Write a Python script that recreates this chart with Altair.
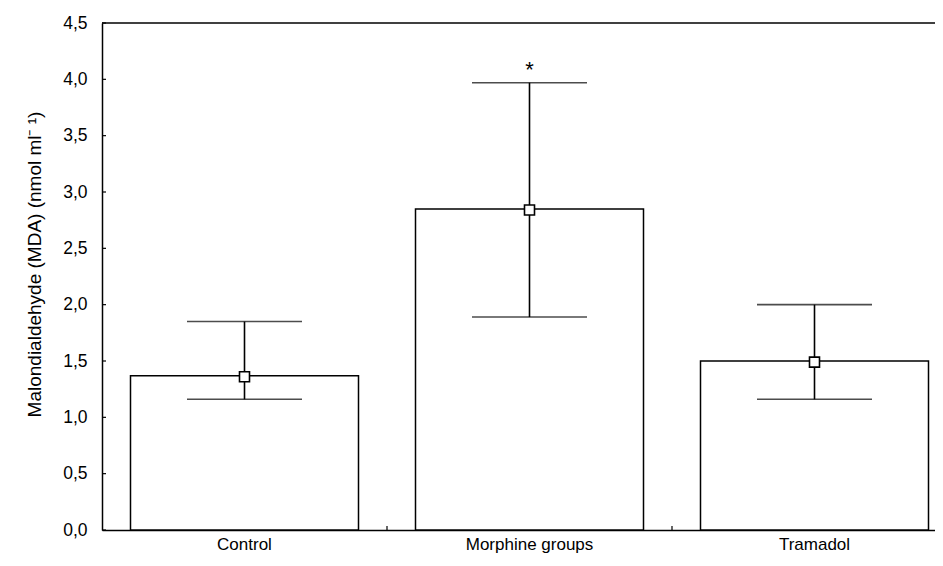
import altair as alt
import pandas as pd

# ---- data ----
groups = ["Control", "Morphine groups", "Tramadol"]
bar_values = [1.37, 2.85, 1.50]
mean_values = [1.36, 2.84, 1.49]
err_low = [1.16, 1.89, 1.16]
err_high = [1.85, 3.97, 2.00]

sig_groups = ["Morphine groups"]
sig_labels = ["*"]
sig_pos = [4.08]

y_ticks = [0.0, 0.5, 1.0, 1.5, 2.0, 2.5, 3.0, 3.5, 4.0, 4.5]
y_max = 4.5

df = pd.DataFrame({
    "group": groups,
    "bar": bar_values,
    "mean": mean_values,
    "low": err_low,
    "high": err_high,
})
sig_df = pd.DataFrame({"group": sig_groups, "label": sig_labels, "pos": sig_pos})
frame_df = pd.DataFrame({"top": [y_max]})
ytick_df = pd.DataFrame({"v": y_ticks})
xtick_df = pd.DataFrame({"group": groups[1:]})

FONT = "Liberation Sans"
PLOT_W = 833
PLOT_H = 507
FULL_RANGE = 855
STEP = FULL_RANGE / 3
Y_TITLE = "Malondialdehyde (MDA) (nmol ml⁻ ¹)"

xscale = alt.Scale(domain=groups, range=[0, FULL_RANGE], paddingInner=0.2, paddingOuter=0.1)
yscale = alt.Scale(domain=[0, y_max], nice=False, zero=True)

comma_expr = "replace(format(datum.value, '.1f'), '.', ',')"

x_axis = alt.Axis(orient="bottom", title=None, ticks=False, domain=True,
                  domainColor="black", domainWidth=1.5, labelAngle=0,
                  labelFontSize=17, labelPadding=6, labelColor="black",
                  labelFont=FONT)
y_axis = alt.Axis(orient="left", values=y_ticks, ticks=False, domain=True,
                  domainColor="black", domainWidth=1.5, grid=False,
                  labelExpr=comma_expr, labelFontSize=17.5, labelPadding=15,
                  labelColor="black", labelFont=FONT,
                  title=Y_TITLE, titleFont=FONT, titleFontSize=19,
                  titleFontWeight="normal", titleColor="black",
                  titlePadding=18, titleY=241)


def X(field="group:N", **kw):
    return alt.X(field, scale=xscale, sort=groups, axis=x_axis, **kw)


def Y(field):
    return alt.Y(field, scale=yscale, axis=y_axis, title=Y_TITLE)


base = alt.Chart(df)

bars = base.mark_bar(fill="white", stroke="black", strokeWidth=1.5).encode(
    x=X(), y=Y("bar:Q"),
)

err = base.mark_rule(color="black", strokeWidth=1.6).encode(
    x=X(), y=Y("low:Q"), y2="high:Q",
)

cap_low = base.mark_tick(color="black", size=115, thickness=1.6).encode(
    x=X(), y=Y("low:Q"),
)
cap_high = base.mark_tick(color="black", size=115, thickness=1.6).encode(
    x=X(), y=Y("high:Q"),
)

points = base.mark_point(shape="square", filled=True, fill="white", stroke="black",
                         strokeWidth=1.6, size=100, opacity=1).encode(
    x=X(), y=Y("mean:Q"),
)

stars = alt.Chart(sig_df).mark_text(font=FONT, fontSize=22, color="black",
                                    baseline="middle", align="center").encode(
    x=X(), y=Y("pos:Q"), text="label:N",
)

# plot frame (top edge) and inward axis ticks
frame = alt.Chart(frame_df).mark_rule(color="black", strokeWidth=1.5).encode(
    x=alt.value(0), x2=alt.value(FULL_RANGE),
    y=Y("top:Q"),
)
yticks = alt.Chart(ytick_df).mark_rule(color="black", strokeWidth=1.2).encode(
    x=alt.value(0), x2=alt.value(4),
    y=Y("v:Q"),
)
xticks = alt.Chart(xtick_df).mark_rule(color="black", strokeWidth=1.2,
                                       xOffset=-0.1 * STEP).encode(
    x=X(bandPosition=0),
    y=alt.value(PLOT_H), y2=alt.value(PLOT_H - 4),
)

chart = alt.layer(bars, err, cap_low, cap_high, points, stars, frame, yticks, xticks).properties(
    width=PLOT_W, height=PLOT_H,
    autosize=alt.AutoSizeParams(type="none"),
    padding={"left": 94, "top": 15, "right": 0, "bottom": 24},
    background="white",
).configure_view(stroke=None)

chart.save("out.html", embed_options={"renderer": "svg", "actions": False})
